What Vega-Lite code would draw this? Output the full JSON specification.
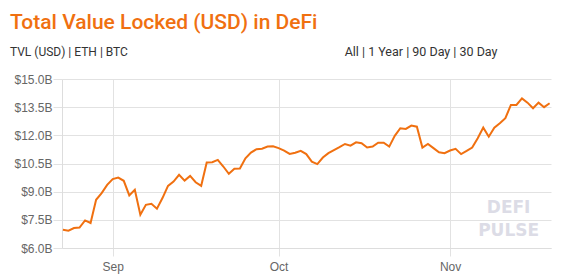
{
  "$schema": "https://vega.github.io/schema/vega-lite/v6.json",
  "width": 489,
  "height": 169,
  "autosize": {"type": "none"},
  "padding": {"left": 62, "top": 79, "right": 14, "bottom": 31},
  "background": "white",
  "title": {
    "text": "Total Value Locked (USD) in DeFi",
    "subtitle": "TVL (USD)  |  ETH  |  BTC",
    "anchor": "start",
    "dx": -4,
    "dy": 33,
    "font": "Roboto",
    "fontSize": 21,
    "fontWeight": 500,
    "color": "#f07010",
    "subtitleFont": "Roboto",
    "subtitleFontSize": 12,
    "subtitleColor": "#333333",
    "subtitlePadding": 14,
    "offset": 20
  },
  "config": {
    "view": {"stroke": null},
    "axis": {"labelFont": "Liberation Sans", "labelFontSize": 12, "labelColor": "#666666"}
  },
  "encoding": {
    "y": {
      "field": "tvl", "type": "quantitative",
      "scale": {"domain": [6, 15], "nice": false, "zero": false},
      "axis": {
        "title": null,
        "values": [6, 7.5, 9, 10.5, 12, 13.5, 15],
        "labelExpr": "'$' + format(datum.value, '.1f') + 'B'",
        "labelOverlap": false,
        "grid": true, "gridColor": "#e2e2e2",
        "domainColor": "#dddddd", "tickColor": "#e2e2e2",
        "tickSize": 9, "labelPadding": 1
      }
    }
  },
  "layer": [
    {
      "data": {"values": [
        {"date": "2020-08-23", "tvl": 6.97},
        {"date": "2020-08-24", "tvl": 6.92},
        {"date": "2020-08-25", "tvl": 7.06},
        {"date": "2020-08-26", "tvl": 7.09},
        {"date": "2020-08-27", "tvl": 7.47},
        {"date": "2020-08-28", "tvl": 7.33},
        {"date": "2020-08-29", "tvl": 8.57},
        {"date": "2020-08-30", "tvl": 8.92},
        {"date": "2020-08-31", "tvl": 9.36},
        {"date": "2020-09-01", "tvl": 9.67},
        {"date": "2020-09-02", "tvl": 9.75},
        {"date": "2020-09-03", "tvl": 9.58},
        {"date": "2020-09-04", "tvl": 8.80},
        {"date": "2020-09-05", "tvl": 9.10},
        {"date": "2020-09-06", "tvl": 7.77},
        {"date": "2020-09-07", "tvl": 8.30},
        {"date": "2020-09-08", "tvl": 8.35},
        {"date": "2020-09-09", "tvl": 8.09},
        {"date": "2020-09-10", "tvl": 8.66},
        {"date": "2020-09-11", "tvl": 9.31},
        {"date": "2020-09-12", "tvl": 9.54},
        {"date": "2020-09-13", "tvl": 9.90},
        {"date": "2020-09-14", "tvl": 9.59},
        {"date": "2020-09-15", "tvl": 9.84},
        {"date": "2020-09-16", "tvl": 9.50},
        {"date": "2020-09-17", "tvl": 9.31},
        {"date": "2020-09-18", "tvl": 10.55},
        {"date": "2020-09-19", "tvl": 10.57},
        {"date": "2020-09-20", "tvl": 10.69},
        {"date": "2020-09-21", "tvl": 10.34},
        {"date": "2020-09-22", "tvl": 9.95},
        {"date": "2020-09-23", "tvl": 10.22},
        {"date": "2020-09-24", "tvl": 10.23},
        {"date": "2020-09-25", "tvl": 10.78},
        {"date": "2020-09-26", "tvl": 11.08},
        {"date": "2020-09-27", "tvl": 11.26},
        {"date": "2020-09-28", "tvl": 11.29},
        {"date": "2020-09-29", "tvl": 11.40},
        {"date": "2020-09-30", "tvl": 11.42},
        {"date": "2020-10-01", "tvl": 11.32},
        {"date": "2020-10-02", "tvl": 11.19},
        {"date": "2020-10-03", "tvl": 11.01},
        {"date": "2020-10-04", "tvl": 11.07},
        {"date": "2020-10-05", "tvl": 11.17},
        {"date": "2020-10-06", "tvl": 11.00},
        {"date": "2020-10-07", "tvl": 10.60},
        {"date": "2020-10-08", "tvl": 10.47},
        {"date": "2020-10-09", "tvl": 10.82},
        {"date": "2020-10-10", "tvl": 11.05},
        {"date": "2020-10-11", "tvl": 11.21},
        {"date": "2020-10-12", "tvl": 11.37},
        {"date": "2020-10-13", "tvl": 11.54},
        {"date": "2020-10-14", "tvl": 11.45},
        {"date": "2020-10-15", "tvl": 11.63},
        {"date": "2020-10-16", "tvl": 11.58},
        {"date": "2020-10-17", "tvl": 11.35},
        {"date": "2020-10-18", "tvl": 11.40},
        {"date": "2020-10-19", "tvl": 11.61},
        {"date": "2020-10-20", "tvl": 11.61},
        {"date": "2020-10-21", "tvl": 11.40},
        {"date": "2020-10-22", "tvl": 11.97},
        {"date": "2020-10-23", "tvl": 12.38},
        {"date": "2020-10-24", "tvl": 12.34},
        {"date": "2020-10-25", "tvl": 12.52},
        {"date": "2020-10-26", "tvl": 12.46},
        {"date": "2020-10-27", "tvl": 11.35},
        {"date": "2020-10-28", "tvl": 11.54},
        {"date": "2020-10-29", "tvl": 11.32},
        {"date": "2020-10-30", "tvl": 11.10},
        {"date": "2020-10-31", "tvl": 11.05},
        {"date": "2020-11-01", "tvl": 11.19},
        {"date": "2020-11-02", "tvl": 11.28},
        {"date": "2020-11-03", "tvl": 11.00},
        {"date": "2020-11-04", "tvl": 11.17},
        {"date": "2020-11-05", "tvl": 11.35},
        {"date": "2020-11-06", "tvl": 11.85},
        {"date": "2020-11-07", "tvl": 12.41},
        {"date": "2020-11-08", "tvl": 11.93},
        {"date": "2020-11-09", "tvl": 12.41},
        {"date": "2020-11-10", "tvl": 12.64},
        {"date": "2020-11-11", "tvl": 12.91},
        {"date": "2020-11-12", "tvl": 13.62},
        {"date": "2020-11-13", "tvl": 13.62},
        {"date": "2020-11-14", "tvl": 13.97},
        {"date": "2020-11-15", "tvl": 13.74},
        {"date": "2020-11-16", "tvl": 13.44},
        {"date": "2020-11-17", "tvl": 13.74},
        {"date": "2020-11-18", "tvl": 13.50},
        {"date": "2020-11-19", "tvl": 13.71}
      ]},
      "mark": {"type": "line", "color": "#f07010", "strokeWidth": 2, "strokeJoin": "miter"},
      "encoding": {
        "x": {
          "field": "date", "type": "temporal",
          "scale": {"type": "utc", "domain": [
            {"year": 2020, "month": 8, "date": 22, "hours": 20, "utc": true},
            {"year": 2020, "month": 11, "date": 19, "hours": 6, "utc": true}
          ]},
          "axis": {
            "title": null,
            "values": [
              {"year": 2020, "month": 9, "date": 1, "utc": true},
              {"year": 2020, "month": 10, "date": 1, "utc": true},
              {"year": 2020, "month": 11, "date": 1, "utc": true}
            ],
            "labelExpr": "utcFormat(datum.value, '%b')",
            "grid": true, "gridColor": "#e2e2e2",
            "domainColor": "#dddddd", "tickColor": "#e2e2e2",
            "tickSize": 8, "labelPadding": 5
          }
        }
      }
    },
    {
      "data": {"values": [
        {"date": "2020-11-11T14:00:00Z", "tvl": 8.15, "label": "DEFI"},
        {"date": "2020-11-11T14:00:00Z", "tvl": 6.88, "label": "PULSE"}
      ]},
      "mark": {"type": "text", "font": "DejaVu Sans", "fontWeight": "bold", "fontSize": 17, "color": "#dcdce6", "baseline": "middle", "align": "center"},
      "encoding": {
        "x": {
          "field": "date", "type": "temporal",
          "axis": {
            "orient": "top", "labels": false, "ticks": false, "domain": false, "grid": false,
            "title": "All  |  1 Year  |  90 Day  |  30 Day",
            "titleFont": "Roboto", "titleFontSize": 12.5, "titleFontWeight": "normal", "titleColor": "#333333",
            "titleAlign": "right", "titleAnchor": "end", "titleX": 435, "titleY": -24, "titleBaseline": "alphabetic"
          }
        },
        "text": {"field": "label"}
      }
    }
  ],
  "resolve": {"axis": {"x": "independent"}}
}
